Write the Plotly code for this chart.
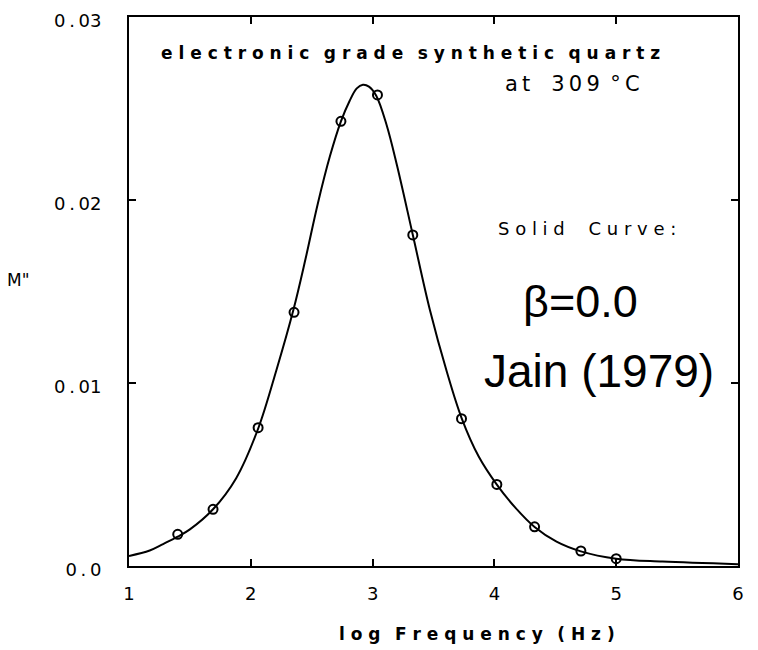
import plotly.graph_objects as go

# Measured data points (open circles)
data_logf = [1.40, 1.69, 2.06, 2.355, 2.74, 3.04, 3.33, 3.73, 4.02, 4.33, 4.71, 5.00]
data_M = [0.00173, 0.0031, 0.00756, 0.01386, 0.0243, 0.02574, 0.01809, 0.00805, 0.00446, 0.00214, 0.00082, 0.0004]

# Solid curve
curve_logf = [1.0, 1.17, 1.28, 1.40, 1.50, 1.69, 1.88, 2.06, 2.21, 2.35, 2.45, 2.55, 2.65, 2.74,
              2.81, 2.87, 2.92, 2.97, 3.03, 3.115, 3.20, 3.33, 3.47, 3.61, 3.73, 3.87, 4.02, 4.17,
              4.33, 4.51, 4.71, 5.00, 5.38, 6.0]
curve_M = [0.00055, 0.00085, 0.0012, 0.0016, 0.0020, 0.0031, 0.0048, 0.0075, 0.0107, 0.0140,
           0.0168, 0.0198, 0.0224, 0.0243, 0.0254, 0.0261, 0.0263, 0.0262, 0.0257, 0.0241,
           0.0219, 0.0181, 0.0140, 0.0106, 0.0081, 0.0060, 0.00445, 0.0032, 0.00213, 0.00133,
           0.0008, 0.0004, 0.00024, 0.0001]

x_ticks = [1, 2, 3, 4, 5, 6]
x_ticktext = ["1", "2", "3", "4", "5", "6"]
y_ticks = [0.0, 0.01, 0.02, 0.03]
y_ticktext = ["0\u2009.\u20090", "0\u2009.\u200901", "0\u2009.\u200902", "0\u2009.\u200903"]

PF = "DejaVu Sans"
EN = "\u2002"


def spaced(s, sep=" ", wordsep=" " + EN):
    return wordsep.join(sep.join(list(w)) for w in s.split(" "))


fig = go.Figure()
fig.add_trace(go.Scatter(x=curve_logf, y=curve_M, mode="lines",
                         line=dict(color="black", width=2, shape="spline", smoothing=1.0),
                         hoverinfo="skip"))
fig.add_trace(go.Scatter(x=data_logf, y=data_M, mode="markers",
                         marker=dict(symbol="circle-open", size=9, color="black",
                                     line=dict(width=2, color="black"))))

axis_common = dict(showgrid=False, zeroline=False, showline=True, linecolor="black", linewidth=2,
                   ticks="inside", ticklen=7, tickwidth=1.5, tickcolor="black", mirror="allticks",
                   ticklabeloverflow="allow", automargin=False,
                   tickfont=dict(family=PF, size=18, color="black"))

fig.update_xaxes(range=[1, 6], tickvals=x_ticks, ticktext=x_ticktext, ticklabelstandoff=10,
                 **axis_common)
fig.update_yaxes(range=[0, 0.030001], tickvals=y_ticks, ticktext=y_ticktext, ticklabelstandoff=22,
                 ticklabelshift=4, **axis_common)

annotations = [
    dict(x=410, y=53, text="<b>" + spaced("electronic grade synthetic quartz") + "</b>",
         font=dict(family=PF, size=17, color="black")),
    dict(x=572, y=84, text="a\u2009t" + EN + EN + "3\u20090\u20099" + EN + "°\u2009C",
         font=dict(family=PF, size=21, color="black")),
    dict(x=587, y=228, text=spaced("Solid Curve:", wordsep=" " + EN + EN),
         font=dict(family=PF, size=18, color="black")),
    dict(x=580, y=301, text="β=0.0", font=dict(family="Liberation Sans", size=45, color="black")),
    dict(x=599, y=371, text="Jain (1979)", font=dict(family="Liberation Sans", size=46, color="black")),
    dict(x=18, y=280, text="M\"", font=dict(family=PF, size=17, color="black")),
    dict(x=477, y=634, text="<b>" + spaced("log Frequency (Hz)") + "</b>",
         font=dict(family=PF, size=17, color="black")),
]
for a in annotations:
    fig.add_annotation(xref="paper", yref="paper", showarrow=False,
                       x=(a["x"] - 129) / (738 - 129), y=(566 - a["y"]) / (566 - 17),
                       xanchor="center", yanchor="middle", text=a["text"], font=a["font"])

# page body has an 8px margin, so the figure is sized to fit the window
fig.update_layout(width=750, height=642, showlegend=False,
                  margin=dict(l=121, r=20, t=9, b=84, autoexpand=False),
                  plot_bgcolor="white", paper_bgcolor="white")

fig.write_html("out.html")
